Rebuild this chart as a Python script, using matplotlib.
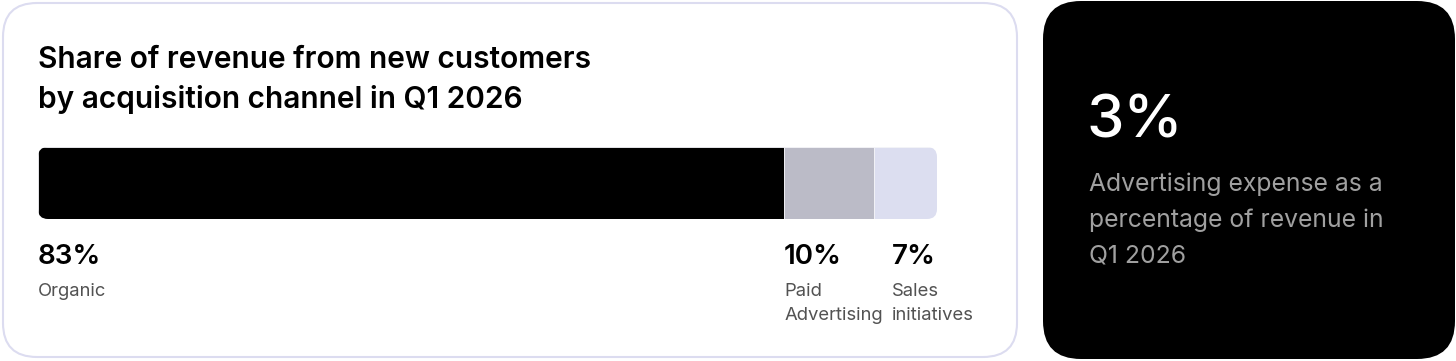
import matplotlib.pyplot as plt
import matplotlib.transforms as mtransforms
from matplotlib.patches import FancyBboxPatch

plt.rcParams['font.family'] = ['Inter', 'DejaVu Sans']

# data
channels = ['Organic', 'Paid\nAdvertising', 'Sales\ninitiatives']
shares = [83, 10, 7]
colors = ['#000000', '#bbbbc7', '#dcdef0']
title = 'Share of revenue from new customers\nby acquisition channel in Q1 2026'
kpi_value = '3%'
kpi_text = ['Advertising expense as a', 'percentage of revenue in', 'Q1 2026']

W, H = 1456, 361


def main():
    fig = plt.figure(figsize=(W / 100, H / 100), dpi=100)

    # background axes in pixel units (y downwards)
    bg = fig.add_axes([0, 0, 1, 1])
    bg.set_xlim(0, W)
    bg.set_ylim(H, 0)
    bg.axis('off')

    # cards
    bg.add_patch(FancyBboxPatch((3, 3), 1014, 354,
                                boxstyle='round,pad=0,rounding_size=34',
                                fc='white', ec='#dcdcf0', lw=1.5))
    bg.add_patch(FancyBboxPatch((1043, 1), 412, 358,
                                boxstyle='round,pad=0,rounding_size=38',
                                fc='black', ec='none'))

    # title
    for i, line in enumerate(title.split('\n')):
        bg.text(38, 68 + i * 40, line, fontsize=21.5, fontweight='semibold',
                color='black', va='baseline', ha='left')

    # stacked bar
    x0, x1, y0, y1 = 38, 937, 147, 219
    ax = fig.add_axes([x0 / W, 1 - y1 / H, (x1 - x0) / W, (y1 - y0) / H])
    ax.set_xlim(0, 100)
    ax.set_ylim(-0.5, 0.5)
    ax.axis('off')
    # rounded outline of the whole bar, in pixel units
    clip = FancyBboxPatch((x0, y0), x1 - x0, y1 - y0,
                          boxstyle='round,pad=0,rounding_size=10',
                          transform=bg.transData, fc='none', ec='none')
    left = 0
    starts = []
    for val, col in zip(shares, colors):
        b = ax.barh(0, val, left=left, height=1, color=col, edgecolor='#f4f4f8', linewidth=0.6)
        for p in b:
            p.set_clip_path(clip)
        starts.append(left)
        left += val

    # labels under the bar
    trans = mtransforms.blended_transform_factory(ax.transData, bg.transData)
    fig.canvas.draw()
    renderer = fig.canvas.get_renderer()
    prev_right = None
    for start, val, name in zip(starts, shares, channels):
        t1 = bg.text(start, 264, f'{val}%', transform=trans, fontsize=20,
                     fontweight='semibold', color='black', va='baseline', ha='left')
        lines = name.split('\n')
        t2 = [bg.text(start, 296 + i * 24, ln, transform=trans, fontsize=13.3,
                      color='#525252', va='baseline', ha='left')
              for i, ln in enumerate(lines)]
        texts = [t1] + t2
        # push right if it would overlap the previous label
        if prev_right is not None:
            lx = min(t.get_window_extent(renderer).x0 for t in texts)
            if lx < prev_right + 9:
                shift = prev_right + 9 - lx
                off = mtransforms.ScaledTranslation(shift / 100, 0, fig.dpi_scale_trans)
                for t in texts:
                    t.set_transform(trans + off)
        fig.canvas.draw()
        prev_right = max(t.get_window_extent(renderer).x1 for t in texts)

    # KPI card
    bg.text(1087, 137, kpi_value, fontsize=43, fontweight='medium', color='white',
            va='baseline', ha='left')
    for i, line in enumerate(kpi_text):
        bg.text(1089, 191 + i * 36, line, fontsize=17.8, color='#a0a0a0',
                va='baseline', ha='left')

    fig.savefig('out.png', dpi=100, facecolor='white')


if __name__ == '__main__':
    main()
